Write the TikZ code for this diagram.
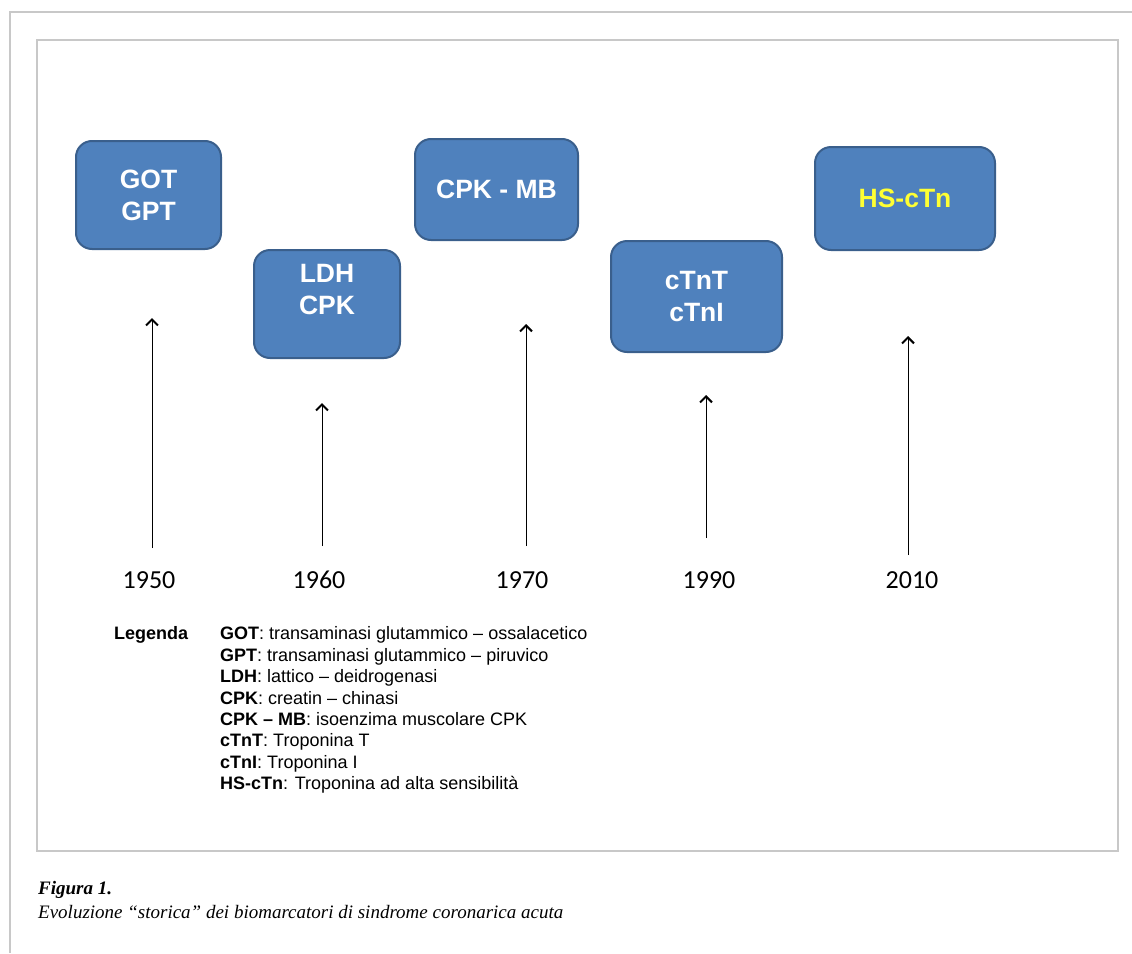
\documentclass[tikz,border=0pt]{standalone}
\usepackage{fontspec}
\setmainfont{Liberation Serif}
\setsansfont{Liberation Sans}
\newfontfamily\yearfont{Carlito}
\usetikzlibrary{arrows.meta}

\definecolor{boxblue}{HTML}{4F81BD}
\definecolor{boxedge}{HTML}{3A5F8C}
\definecolor{framegray}{HTML}{C8C8C8}
\definecolor{hsyellow}{HTML}{FFFF33}

\begin{document}
\begin{tikzpicture}[x=1pt,y=-1pt,every node/.style={inner sep=0pt},
    marker/.style={draw=boxedge,line width=2pt,fill=boxblue,rounded corners=16pt,text=white,align=center,font=\sffamily\bfseries\fontsize{26.5}{32}\selectfont},
    year/.style={font=\yearfont\fontsize{26}{30}\selectfont},
    tick/.style={line width=1pt,-{Straight Barb[length=6pt,width=12pt,line width=2pt]}}]
            \useasboundingbox (0,0) rectangle (1132,953);
            \draw[framegray,line width=1.5pt] (10,953) -- (10,12) -- (1132,12);
            \draw[framegray,line width=1.2pt] (37,40) rectangle (1118,851);

            \node[marker,minimum width=145pt,minimum height=108pt] (got) at (148.5,195) {GOT\\GPT};
            \node[marker,minimum width=146pt,minimum height=108pt,text depth=30pt] (ldh) at (327,304) {LDH\\CPK};
            \node[marker,minimum width=163pt,minimum height=101pt] (mb) at (496.5,189.5) {CPK - MB};
            \node[marker,minimum width=171pt,minimum height=111pt] (ctn) at (696.5,296.5) {cTnT\\cTnI};
            \node[marker,minimum width=180pt,minimum height=103pt,text=hsyellow] (hs) at (905,198.5) {HS-cTn};

            \node[year] (y50) at (149,580) {1950};
            \node[year] (y60) at (319,580) {1960};
            \node[year] (y70) at (522,580) {1970};
            \node[year] (y90) at (709,580) {1990};
            \node[year] (y10) at (912,580) {2010};

            \coordinate (a50) at (152,548); \coordinate (b50) at (152,318);
            \coordinate (a60) at (322,546); \coordinate (b60) at (322,403);
            \coordinate (a70) at (526,546); \coordinate (b70) at (526,324);
            \coordinate (a90) at (706,538); \coordinate (b90) at (706,395);
            \coordinate (a10) at (908,555); \coordinate (b10) at (908,336);
            \path [tick] (a50) edge (b50);
            \path [tick] (a60) edge (b60);
            \path [tick] (a70) edge (b70);
            \path [tick] (a90) edge (b90);
            \path [tick] (a10) edge (b10);

            \node[anchor=base west,font=\sffamily\bfseries\fontsize{18}{21.4}\selectfont] (leg) at (114,639.5) {Legenda};
            \node[anchor=north west,align=left,font=\sffamily\fontsize{18}{21.4}\selectfont] (keys) at (220,626.6) {%
                \textbf{GOT}: transaminasi glutammico – ossalacetico\\
                \textbf{GPT}: transaminasi glutammico – piruvico\\
                \textbf{LDH}: lattico – deidrogenasi\\
                \textbf{CPK}: creatin – chinasi\\
                \textbf{CPK – MB}: isoenzima muscolare CPK\\
                \textbf{cTnT}: Troponina T\\
                \textbf{cTnI}: Troponina I\\
                \textbf{HS-cTn}: Troponina ad alta sensibilità};

            \node[anchor=base west,font=\bfseries\itshape\fontsize{19}{25}\selectfont] (fig) at (38,894) {Figura 1.};
            \node[anchor=base west,font=\itshape\fontsize{19}{25}\selectfont] (cap) at (38,918) {Evoluzione “storica” dei biomarcatori di sindrome coronarica acuta};
        \end{tikzpicture}
\end{document}
